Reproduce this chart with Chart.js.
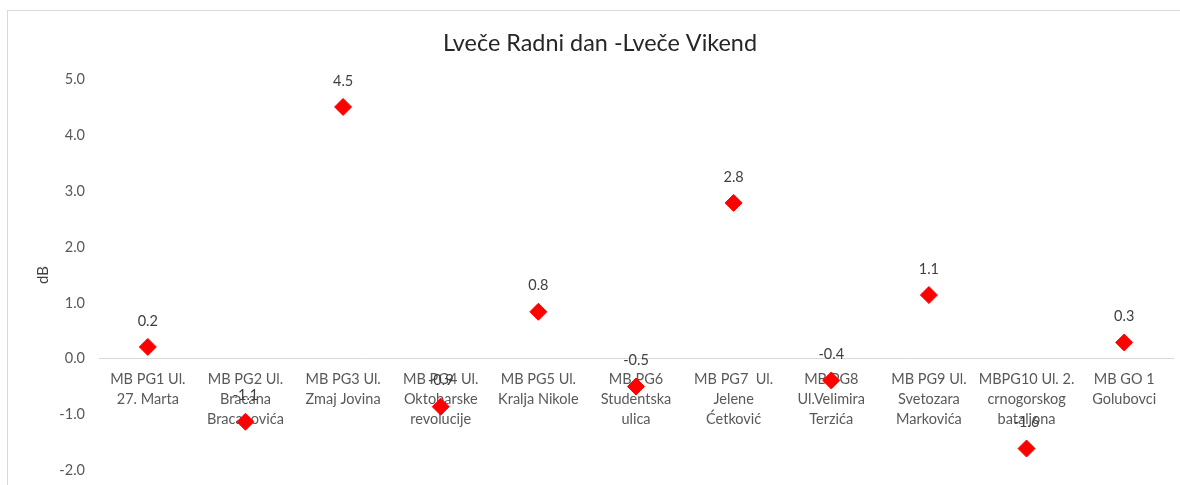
<!DOCTYPE html>
<html>
<head>
<meta charset="utf-8">
<title>Lveče Radni dan -Lveče Vikend</title>
<script src="https://cdn.jsdelivr.net/npm/chart.js@4/dist/chart.umd.min.js"></script>
<style>
  html, body { margin: 0; padding: 0; background: #fff; overflow: hidden; }
  #frame {
    position: absolute; left: 7px; top: 10px;
    width: 1200px; height: 520px;
    border: 1px solid #d9d9d9; box-sizing: border-box;
  }
  #wrap { position: absolute; left: 0; top: 0; width: 1200px; height: 485px; }
</style>
</head>
<body>
<div id="frame"></div>
<div id="wrap"><canvas id="diffChart"></canvas></div>
<script>
/* mjerna mjesta (kategorije) */
const stations = [
  ['MB PG1 Ul.', '27. Marta'],
  ['MB PG2 Ul.', 'Bracana', 'Bracanovića'],
  ['MB PG3 Ul.', 'Zmaj Jovina'],
  ['MB PG4 Ul.', 'Oktobarske', 'revolucije'],
  ['MB PG5 Ul.', 'Kralja Nikole'],
  ['MB PG6', 'Studentska', 'ulica'],
  ['MB PG7  Ul.', 'Jelene', 'Ćetković'],
  ['MB PG8', 'Ul.Velimira', 'Terzića'],
  ['MB PG9 Ul.', 'Svetozara', 'Markovića'],
  ['MBPG10 Ul. 2.', 'crnogorskog', 'bataljona'],
  ['MB GO 1', 'Golubovci']
];

/* razlika Lveče radni dan - Lveče vikend, dB */
const diffDb = [0.21, -1.13, 4.51, -0.86, 0.84, -0.50, 2.79, -0.39, 1.14, -1.61, 0.29];

/* opseg y ose */
const yMin = -2;
const yMax = 5;
const yStep = 1;

const textGrey = '#595959';
const labelFont = { family: 'Lato, "Open Sans", sans-serif', size: 14.5 };

/* vrijednosti iznad markera */
const valueLabels = {
  id: 'valueLabels',
  afterDatasetsDraw(chart) {
    const ctx = chart.ctx;
    const meta = chart.getDatasetMeta(0);
    ctx.save();
    ctx.font = `${labelFont.size}px ${labelFont.family}`;
    ctx.fillStyle = '#404040';
    ctx.textAlign = 'center';
    ctx.textBaseline = 'middle';
    meta.data.forEach((pt, i) => {
      ctx.fillText(diffDb[i].toFixed(1), pt.x, pt.y - 26);
    });
    ctx.restore();
  }
};

new Chart(document.getElementById('diffChart'), {
  type: 'line',
  data: {
    labels: stations,
    datasets: [{
      label: 'Lveče Radni dan -Lveče Vikend',
      data: diffDb,
      showLine: false,
      pointStyle: 'rectRot',
      pointRadius: 8.5,
      pointHoverRadius: 8.5,
      pointBackgroundColor: '#ff0000',
      pointBorderColor: '#ff0000',
      pointBorderWidth: 1
    }]
  },
  options: {
    responsive: true,
    maintainAspectRatio: false,
    animation: false,
    layout: { padding: { top: 0, right: 0, bottom: 2, left: 0 } },
    plugins: {
      legend: { display: false },
      tooltip: { enabled: false },
      title: {
        display: true,
        text: 'Lveče Radni dan -Lveče Vikend',
        color: '#262626',
        font: { family: labelFont.family, size: 23.4, weight: 'normal' },
        padding: { top: 29, bottom: 22.5 }
      }
    },
    scales: {
      x: {
        position: { y: 0 },
        offset: true,
        grid: { display: false },
        border: { display: true, color: '#d9d9d9', width: 1 },
        ticks: {
          color: textGrey,
          font: { ...labelFont, lineHeight: '20px' },
          padding: 3,
          autoSkip: false,
          maxRotation: 0
        }
      },
      y: {
        min: yMin,
        max: yMax,
        grid: { display: false },
        border: { display: false },
        afterFit: s => { s.width = 99; },
        ticks: {
          stepSize: yStep,
          color: textGrey,
          font: labelFont,
          padding: 6,
          callback: v => Number(v).toFixed(1)
        },
        title: {
          display: true,
          text: 'dB',
          color: '#404040',
          font: { ...labelFont, size: 15 },
          padding: { top: 34, bottom: 0 }
        }
      },
      // prazan desni rub
      yRight: {
        position: 'right',
        grid: { display: false },
        border: { display: false },
        ticks: { display: false },
        afterFit: s => { s.width = 27; }
      }
    }
  },
  plugins: [valueLabels]
});
</script>
</body>
</html>
